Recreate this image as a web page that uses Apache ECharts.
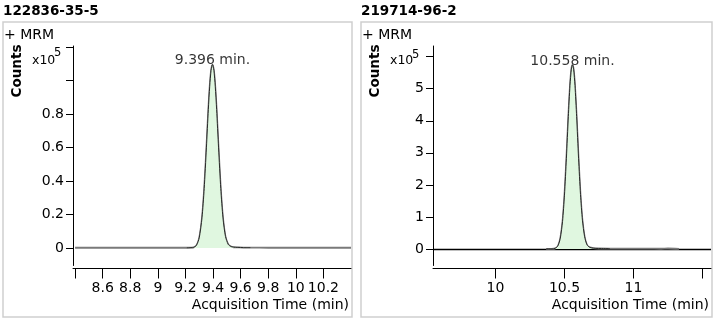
<!DOCTYPE html>
<html>
<head>
<meta charset="utf-8">
<script src="https://cdn.jsdelivr.net/npm/echarts@6/dist/echarts.min.js"></script>
<style>
html,body{margin:0;padding:0;background:#fff;}
#chart{width:719px;height:322px;}
</style>
</head>
<body>
<div id="chart"></div>
<script>
// ---------- data (counts in units of 10^5) ----------
const titles = ['122836-35-5', '219714-96-2'];
const peakTimes = [9.396, 10.558];
const peakLabels = ['9.396 min.', '10.558 min.'];
const peakHeights = [1.095, 5.74];
const peakRanges = [[9.21, 9.67], [10.368, 10.83]];

const leftTimes = [8.40, 8.60, 8.80, 9.00, 9.10, 9.21, 9.240, 9.260, 9.280, 9.300, 9.320, 9.336, 9.352, 9.366, 9.376, 9.386, 9.396,
  9.406, 9.416, 9.426, 9.440, 9.456, 9.472, 9.490, 9.510, 9.530, 9.550, 9.580, 9.620, 9.670, 9.80, 10.00, 10.20, 10.40];
const leftCounts = [0.002, 0.002, 0.002, 0.002, 0.002, 0.002, 0.0025, 0.004, 0.016, 0.061, 0.18, 0.355, 0.598, 0.827, 0.966, 1.061, 1.095,
  1.061, 0.966, 0.827, 0.598, 0.355, 0.18, 0.07, 0.022, 0.009, 0.005, 0.004, 0.003, 0.003, 0.002, 0.002, 0.002, 0.002];

const rightTimes = [10.368, 10.408, 10.433, 10.453, 10.470, 10.486, 10.500, 10.514, 10.528, 10.540, 10.550, 10.558,
  10.566, 10.576, 10.588, 10.602, 10.616, 10.630, 10.646, 10.663, 10.683, 10.708, 10.748, 10.828, 10.90, 11.00, 11.10, 11.20, 11.25, 11.33];
const rightCounts = [0.0, 0.002, 0.02, 0.10, 0.34, 0.86, 1.68, 2.83, 4.13, 5.10, 5.61, 5.74,
  5.61, 5.10, 4.13, 2.83, 1.70, 0.90, 0.38, 0.13, 0.05, 0.025, 0.015, 0.01, 0.012, 0.01, 0.012, 0.008, 0.015, 0.005];

const leftXTicks = [8.4, 8.6, 8.8, 9, 9.2, 9.4, 9.6, 9.8, 10, 10.2];
const leftXLabels = [8.6, 8.8, 9, 9.2, 9.4, 9.6, 9.8, 10, 10.2];
const leftYTicks = [0, 0.2, 0.4, 0.6, 0.8, 1.0, 1.2];
const leftYLabels = [0, 0.2, 0.4, 0.6, 0.8];

const rightXTicks = [10, 10.5, 11, 11.5];
const rightXLabels = [10, 10.5, 11];
const rightYTicks = [0, 1, 2, 3, 4, 5, 6];
const rightYLabels = [0, 1, 2, 3, 4, 5];

// ---------- build ----------
const FONT = 'DejaVu Sans';
const fmt = v => String(+(+v).toFixed(3));

function pairs(t, c) { return t.map((x, i) => [x, c[i]]); }
function peakPairs(t, c, r) { return t.map((x, i) => [x, c[i]]).filter(p => p[0] >= r[0] && p[0] <= r[1]); }

const panels = [
  { left: 73, xMin: 8.385, xMax: 10.40, yMin: -0.104, yMax: 1.206,
    t: leftTimes, c: leftCounts, xt: leftXTicks, xl: leftXLabels, yt: leftYTicks, yl: leftYLabels, zero: false },
  { left: 433, xMin: 9.547, xMax: 11.562, yMin: -0.515, yMax: 6.333,
    t: rightTimes, c: rightCounts, xt: rightXTicks, xl: rightXLabels, yt: rightYTicks, yl: rightYLabels, zero: true }
];

const grid = [], xAxis = [], yAxis = [], series = [];
panels.forEach((p, i) => {
  grid.push({ left: p.left, top: 46, width: 278, height: 219.5 });
  xAxis.push({
    type: 'value', gridIndex: i, min: p.xMin, max: p.xMax, offset: 3,
    axisLine: { onZero: false, lineStyle: { color: '#000', width: 1 } },
    axisTick: { show: true, length: 10, customValues: p.xt, lineStyle: { color: '#000', width: 1 } },
    axisLabel: { customValues: p.xl, formatter: fmt, margin: 13, color: '#000', fontFamily: FONT, fontSize: 14 },
    splitLine: { show: false }
  });
  yAxis.push({
    type: 'value', gridIndex: i, min: p.yMin, max: p.yMax,
    axisLine: { show: true, onZero: false, lineStyle: { color: '#000', width: 1 } },
    axisTick: { show: true, length: 7, customValues: p.yt, lineStyle: { color: '#000', width: 1 } },
    axisLabel: { customValues: p.yl, formatter: fmt, margin: 9, color: '#000', fontFamily: FONT, fontSize: 14 },
    splitLine: { show: false }
  });
  const trace = {
    type: 'line', xAxisIndex: i, yAxisIndex: i, data: pairs(p.t, p.c),
    showSymbol: false, smooth: 0.25, z: 3,
    lineStyle: { color: '#7a7a7a', width: 1.8 }, silent: true
  };
  if (p.zero) {
    trace.markLine = {
      silent: true, symbol: 'none', label: { show: false }, z: 2,
      lineStyle: { color: '#000', width: 1.4, type: 'solid' },
      data: [{ yAxis: 0 }]
    };
  }
  series.push(trace);
  series.push({
    type: 'line', xAxisIndex: i, yAxisIndex: i, data: peakPairs(p.t, p.c, peakRanges[i]),
    showSymbol: false, smooth: 0.25, z: 4,
    lineStyle: { color: '#2a2a2a', width: 1 },
    areaStyle: { color: '#e0f7e0', opacity: 1 }, silent: true
  });
  series.push({
    type: 'scatter', xAxisIndex: i, yAxisIndex: i, data: [[peakTimes[i], peakHeights[i]]],
    symbolSize: 0, z: 5, silent: true,
    label: { show: true, position: 'top', distance: -3, formatter: peakLabels[i],
      color: '#000', fontFamily: FONT, fontSize: 14 }
  });
});

const frames = [{ x: 3, w: 349 }, { x: 361, w: 351 }];
const graphic = [];
frames.forEach((f, i) => {
  graphic.push({ type: 'rect', shape: { x: f.x, y: 22, width: f.w, height: 295 },
    style: { fill: 'none', stroke: '#cfcfcf', lineWidth: 1.5 }, silent: true, z: 0 });
  graphic.push({ type: 'text', x: f.x, y: 4, style: { text: titles[i], fill: '#000',
    font: 'bold 13.5px "DejaVu Sans"', align: 'left', verticalAlign: 'top' } });
  graphic.push({ type: 'text', x: f.x + 1, y: 28, style: { text: '+ MRM', fill: '#000',
    font: '14px "DejaVu Sans"', align: 'left', verticalAlign: 'top' } });
  graphic.push({ type: 'text', x: f.x + 14, y: 71, rotation: Math.PI / 2, style: { text: 'Counts', fill: '#000',
    font: 'bold 13.5px "DejaVu Sans"', align: 'center', verticalAlign: 'middle' } });
  graphic.push({ type: 'text', x: f.x + 29, y: 67, style: { text: 'x10', fill: '#000',
    font: '12.5px "DejaVu Sans"', align: 'left', verticalAlign: 'bottom' } });
  graphic.push({ type: 'text', x: f.x + 51, y: i === 0 ? 47 : 49, style: { text: '5', fill: '#000',
    font: '11.5px "DejaVu Sans"', align: 'left', verticalAlign: 'top' } });
  graphic.push({ type: 'text', x: f.x + f.w - 3, y: 298, style: { text: 'Acquisition Time (min)', fill: '#000',
    font: '14px "DejaVu Sans"', align: 'right', verticalAlign: 'top' } });
});

const chart = echarts.init(document.getElementById('chart'), null, { renderer: 'canvas' });
chart.setOption({
  animation: false,
  backgroundColor: '#fff',
  grid, xAxis, yAxis, series, graphic
});
</script>
</body>
</html>
